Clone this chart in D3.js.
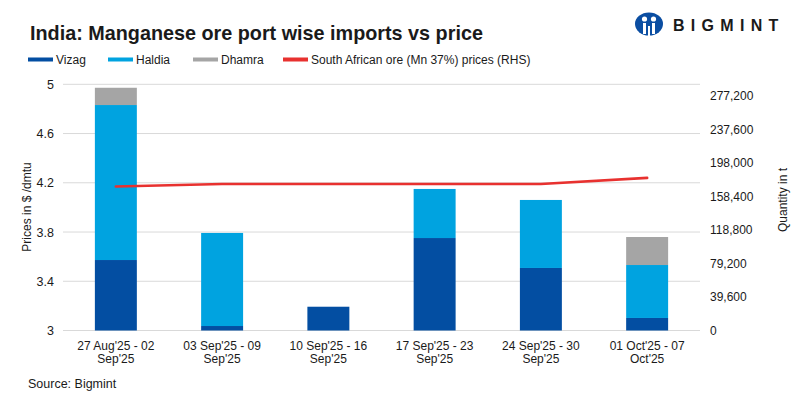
<!DOCTYPE html>
<html>
<head>
<meta charset="utf-8">
<script src="https://cdn.jsdelivr.net/npm/d3@7"></script>
<style>
  body { margin: 0; background: #fff; }
  text { font-family: "Liberation Sans", Arial, sans-serif; fill: #1a1a1a; }
</style>
</head>
<body>
<script>
// datos
var semanas = ["27 Aug'25 - 02 Sep'25", "03 Sep'25 - 09 Sep'25", "10 Sep'25 - 16 Sep'25",
               "17 Sep'25 - 23 Sep'25", "24 Sep'25 - 30 Sep'25", "01 Oct'25 - 07 Oct'25"];
var vizag = [83300, 5300, 28100, 109300, 73900, 14800];
var haldia = [183200, 110000, 0, 58000, 80400, 62600];
var dhamra = [20400, 0, 0, 0, 0, 33100];
var precio = [4.17, 4.19, 4.19, 4.19, 4.19, 4.24];
var ticksPrecio = [3, 3.4, 3.8, 4.2, 4.6, 5];
var ticksCantidad = [0, 39600, 79200, 118800, 158400, 198000, 237600, 277200];

var vis = {
  width: 799,
  height: 396,
  left: 63,
  right: 700,
  top: 84.3,
  bottom: 330.5,
  colores: { Vizag: "#034ea2", Haldia: "#00a3e0", Dhamra: "#a5a5a5" },
  rojo: "#e8312f"
};

var svg = d3.select("body").append("svg")
  .attr("width", vis.width)
  .attr("height", vis.height);

var x = d3.scaleBand()
  .domain(semanas)
  .range([vis.left, vis.right])
  .paddingInner(0.605)
  .paddingOuter(0.3);

var yPrecio = d3.scaleLinear().domain([3, 5]).range([vis.bottom, vis.top]);
var yCantidad = d3.scaleLinear().domain([0, 291000]).range([vis.bottom, vis.top]);

// lineas de la rejilla
svg.append("g")
  .selectAll("line")
  .data(ticksPrecio)
  .enter()
  .append("line")
  .attr("x1", vis.left)
  .attr("x2", vis.right)
  .attr("y1", function(d) { return yPrecio(d); })
  .attr("y2", function(d) { return yPrecio(d); })
  .attr("stroke", "#d9d9d9")
  .attr("stroke-width", 1);

// barras apiladas
var filas = semanas.map(function(s, i) {
  return { semana: s, Vizag: vizag[i], Haldia: haldia[i], Dhamra: dhamra[i] };
});
var pila = d3.stack().keys(["Vizag", "Haldia", "Dhamra"])(filas);

svg.append("g")
  .selectAll("g")
  .data(pila)
  .enter()
  .append("g")
  .attr("fill", function(d) { return vis.colores[d.key]; })
  .selectAll("rect")
  .data(function(d) { return d; })
  .enter()
  .append("rect")
  .attr("x", function(d) { return x(d.data.semana); })
  .attr("width", x.bandwidth())
  .attr("y", function(d) { return yCantidad(d[1]); })
  .attr("height", function(d) { return yCantidad(d[0]) - yCantidad(d[1]); });

// linea de precio
var linea = d3.line()
  .x(function(d, i) { return x(semanas[i]) + x.bandwidth() / 2; })
  .y(function(d) { return yPrecio(d); });

svg.append("path")
  .datum(precio)
  .attr("d", linea)
  .attr("fill", "none")
  .attr("stroke", vis.rojo)
  .attr("stroke-width", 2.6)
  .attr("stroke-linecap", "round");

// eje izquierdo
var ejeIzq = d3.axisLeft(yPrecio).tickValues(ticksPrecio).tickSize(0).tickPadding(9)
  .tickFormat(d3.format("~g"));
svg.append("g")
  .attr("transform", "translate(" + vis.left + ",0)")
  .call(ejeIzq)
  .call(function(g) { g.select(".domain").remove(); })
  .selectAll("text")
  .attr("font-size", 12.5)
  .attr("font-family", "Liberation Sans, Arial, sans-serif")
  .attr("fill", "#1a1a1a");

// eje derecho (no coincide con la rejilla, como en el original)
var ejeDer = d3.axisRight(yCantidad).tickValues(ticksCantidad).tickSize(0).tickPadding(10)
  .tickFormat(d3.format(","));
svg.append("g")
  .attr("transform", "translate(" + vis.right + ",0)")
  .call(ejeDer)
  .call(function(g) { g.select(".domain").remove(); })
  .selectAll("text")
  .attr("font-size", 12)
  .attr("font-family", "Liberation Sans, Arial, sans-serif")
  .attr("fill", "#1a1a1a");

// etiquetas del eje x en dos lineas
var ejeX = svg.append("g")
  .selectAll("text")
  .data(semanas)
  .enter()
  .append("text")
  .attr("x", function(d) { return x(d) + x.bandwidth() / 2; })
  .attr("y", 349.5)
  .attr("text-anchor", "middle")
  .attr("font-size", 12);

ejeX.append("tspan")
  .attr("x", function(d) { return x(d) + x.bandwidth() / 2; })
  .text(function(d) { return d.slice(0, d.lastIndexOf(" ")); });
ejeX.append("tspan")
  .attr("x", function(d) { return x(d) + x.bandwidth() / 2; })
  .attr("dy", 13)
  .text(function(d) { return d.slice(d.lastIndexOf(" ") + 1); });

// titulos de los ejes
svg.append("text")
  .attr("transform", "translate(31,207) rotate(-90)")
  .attr("text-anchor", "middle")
  .attr("font-size", 12)
  .text("Prices in $ /dmtu");

svg.append("text")
  .attr("transform", "translate(787,200) rotate(-90)")
  .attr("text-anchor", "middle")
  .attr("font-size", 12)
  .text("Quantity in t");

// titulo
svg.append("text")
  .attr("x", 30)
  .attr("y", 40)
  .attr("font-size", 19.8)
  .attr("font-weight", "bold")
  .attr("fill", "#111")
  .text("India: Manganese ore port wise imports vs price");

// leyenda
var leyenda = [
  { nombre: "Vizag", color: vis.colores.Vizag, x: 28 },
  { nombre: "Haldia", color: vis.colores.Haldia, x: 108 },
  { nombre: "Dhamra", color: vis.colores.Dhamra, x: 193 },
  { nombre: "South African ore (Mn 37%) prices (RHS)", color: vis.rojo, x: 283 }
];

var items = svg.append("g")
  .selectAll("g")
  .data(leyenda)
  .enter()
  .append("g")
  .attr("transform", function(d) { return "translate(" + d.x + ",59.5)"; });

items.append("rect")
  .attr("x", 0)
  .attr("y", -2)
  .attr("width", 25)
  .attr("height", 4)
  .attr("fill", function(d) { return d.color; });

items.append("text")
  .attr("x", 28)
  .attr("y", 4.3)
  .attr("font-size", 12)
  .attr("fill", "#222")
  .text(function(d) { return d.nombre; });

// fuente
svg.append("text")
  .attr("x", 28)
  .attr("y", 387.5)
  .attr("font-size", 12.5)
  .text("Source: Bigmint");

// logo BIGMINT
var logo = svg.append("g").attr("transform", "translate(649,24)");
logo.append("ellipse")
  .attr("rx", 14)
  .attr("ry", 11.5)
  .attr("fill", "#0b4ea2");
logo.append("circle").attr("cx", -4.5).attr("cy", -5).attr("r", 2.6).attr("fill", "#fff");
logo.append("circle").attr("cx", 4.5).attr("cy", -5).attr("r", 2.6).attr("fill", "#fff");
logo.append("rect").attr("x", -6).attr("y", -1).attr("width", 3).attr("height", 11).attr("fill", "#fff");
logo.append("rect").attr("x", 3).attr("y", -1).attr("width", 3).attr("height", 11).attr("fill", "#fff");
logo.append("rect").attr("x", -1).attr("y", 2).attr("width", 2).attr("height", 10).attr("fill", "#fff");

svg.append("text")
  .attr("x", 673)
  .attr("y", 30.5)
  .attr("font-family", "DejaVu Sans, sans-serif")
  .attr("font-size", 16)
  .attr("font-weight", "bold")
  .attr("letter-spacing", 6.3)
  .attr("fill", "#0b4ea2")
  .text("BIGMINT");
</script>
</body>
</html>
